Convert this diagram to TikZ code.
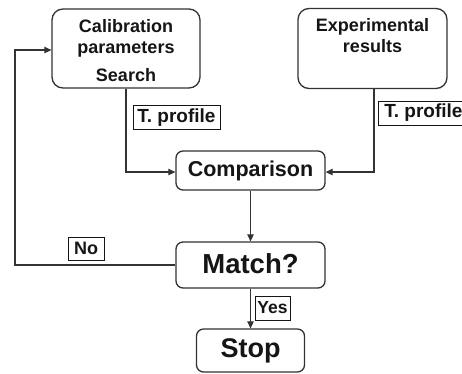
\documentclass[tikz,border=0pt]{standalone}
\usepackage{fontspec}
\setmainfont{Liberation Sans}
\usetikzlibrary{arrows.meta}
\definecolor{lncol}{HTML}{333333}
\definecolor{txcol}{HTML}{151515}
\begin{document}
\begin{tikzpicture}[x=1pt,y=-1pt,
  box/.style={draw=lncol,line width=1.3pt,rounded corners=7pt,text=txcol,align=center,inner sep=0pt},
  tagbox/.style={draw=txcol,line width=1pt,text=txcol,inner sep=0pt},
  arr/.style={draw=lncol,line width=1.25pt,-{Triangle[length=7pt,width=6.5pt]}}]
\fill[white] (0,0) rectangle (462,373);
\useasboundingbox (0,0) rectangle (462,373);
% boxes
\node[box,rounded corners=11pt,minimum width=148pt,minimum height=79pt,
  font=\bfseries\fontsize{18}{21}\selectfont] (cal) at (126,48.5)
  {\rule{0pt}{18pt}Calibration\\parameters\\[7pt]Search};
\node[box,rounded corners=11pt,minimum width=149pt,minimum height=80pt,
  font=\bfseries\fontsize{18}{21}\selectfont] (exp) at (372.5,48.5)
  {Experimental\\results\rule[-27pt]{0pt}{27pt}};
\node[box,minimum width=149pt,minimum height=39pt,
  font=\bfseries\fontsize{21.5}{25}\selectfont] (comp) at (250.5,170.5)
  {\raisebox{2.5pt}{Comparison}};
\node[box,minimum width=149pt,minimum height=46pt,
  font=\bfseries\fontsize{27.5}{32}\selectfont] (match) at (250.5,265)
  {\raisebox{2.5pt}{Match?}};
\node[box,minimum width=108pt,minimum height=43pt,
  font=\bfseries\fontsize{27}{32}\selectfont] (stop) at (250.5,350.5)
  {\raisebox{2pt}{Stop}};
% tags
\node[tagbox,minimum width=87pt,minimum height=24pt,
  font=\bfseries\fontsize{19}{22}\selectfont] (tp1) at (176.5,117.5) {T. profile};
\node[tagbox,anchor=west,minimum width=90pt,minimum height=24pt,
  font=\bfseries\fontsize{19}{22}\selectfont] (tp2) at (378,113) {T. profile};
\node[tagbox,minimum width=36pt,minimum height=23pt,
  font=\bfseries\fontsize{18}{21}\selectfont] (no) at (86,248.5) {No};
\node[tagbox,minimum width=35pt,minimum height=24pt,
  font=\bfseries\fontsize{17.5}{21}\selectfont] (yes) at (272.5,308) {Yes};
% connectors
\draw[arr] (cal.south) |- ([yshift=-1.5pt]comp.west);
\draw[arr] ([xshift=1.5pt]exp.south) |- ([yshift=-1.5pt]comp.east);
\draw[arr] (comp.south) -- (match.north);
\coordinate (nbend) at (15,265);
\draw[arr] (match.west) -- (nbend) |- ([yshift=-1.5pt]cal.west);
\draw[arr] (match.south) -- (stop.north);
\end{tikzpicture}
\end{document}
